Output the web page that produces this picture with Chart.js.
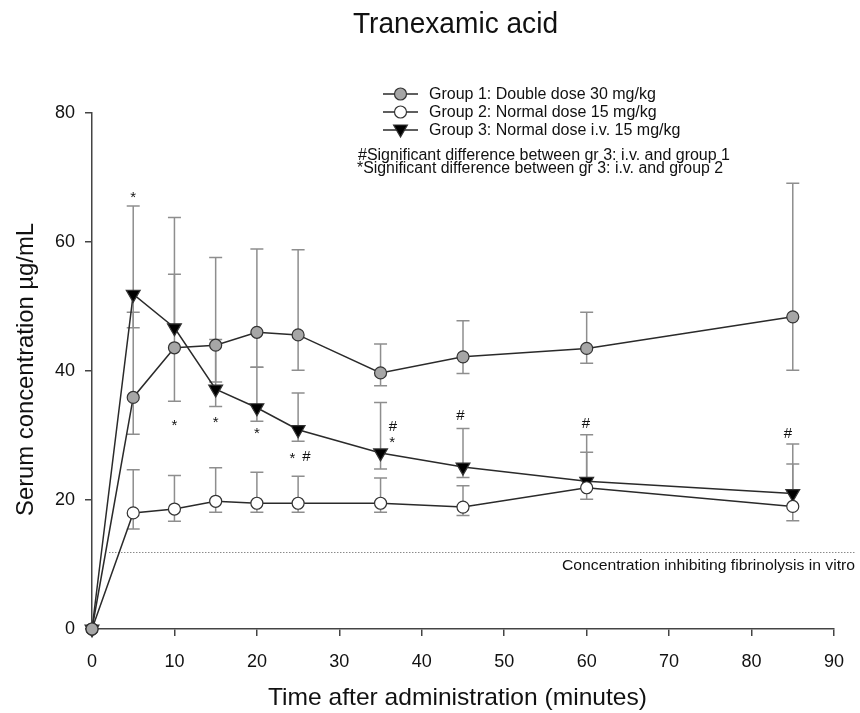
<!DOCTYPE html>
<html>
<head>
<meta charset="utf-8">
<title>Tranexamic acid</title>
<script src="https://cdn.jsdelivr.net/npm/chart.js@4.4.1/dist/chart.umd.min.js"></script>
<style>
    html, body { margin: 0; padding: 0; background: #fff; }
    #wrap { width: 860px; height: 713px; position: relative; }
</style>
</head>
<body>
<div id="wrap"><canvas id="chart"></canvas></div>
<script>
// minutes after administration
var times = [0, 5, 10, 15, 20, 25, 35, 45, 60, 85];

// mean serum concentration (ug/mL)
var group1 = [0, 35.9, 43.6, 44.0, 46.0, 45.6, 39.7, 42.2, 43.5, 48.4];
var group2 = [0, 18.0, 18.6, 19.8, 19.5, 19.5, 19.5, 18.9, 21.9, 19.0];
var group3 = [0, 51.9, 46.7, 37.2, 34.3, 30.9, 27.3, 25.1, 22.9, 21.0];

// error bar ends (null = not drawn)
var group1Hi = [null, 49.1, 55.0, 57.6, 58.9, 58.8, 44.2, 47.8, 49.1, 69.1];
var group1Lo = [null, 30.2, 35.3, 38.3, 40.6, 40.1, 37.7, 39.6, 41.2, 40.1];
var group2Hi = [null, 24.7, 23.8, 25.0, 24.3, 23.7, 23.4, 22.2, 27.4, 25.6];
var group2Lo = [null, 15.5, 16.7, 18.1, 18.1, 18.1, 18.1, 17.6, 20.1, 16.8];
var group3Hi = [null, 65.6, 63.8, 44.9, 40.6, 36.6, 35.1, 31.1, 30.1, 28.7];
var group3Lo = [null, 46.7, null, 34.5, 32.2, 29.1, 24.8, 23.5, null, null];

var seriesLabels = [
    'Group 1: Double dose 30 mg/kg',
    'Group 2: Normal dose 15 mg/kg',
    'Group 3: Normal dose i.v. 15 mg/kg'
];
var noteLabels = [
    '#Significant difference between gr 3: i.v. and group 1',
    '*Significant difference between gr 3: i.v. and group 2'
];

// significance marks
var sigX = [5, 10, 15, 20, 24.3, 26.0, 36.5, 36.4, 44.7, 59.9, 84.4];
var sigY = [67.3, 31.9, 32.4, 30.7, 26.8, 26.8, 31.4, 29.3, 33.2, 32.0, 30.4];
var sigText = ['*', '*', '*', '*', '*', '#', '#', '*', '#', '#', '#'];

// concentration inhibiting fibrinolysis in vitro
var threshold = 12;
var thresholdLabel = 'Concentration inhibiting fibrinolysis in vitro';

var xTicks = [0, 10, 20, 30, 40, 50, 60, 70, 80, 90];
var yTicks = [0, 20, 40, 60, 80];

var FONT = '"Liberation Sans", Arial, Helvetica, sans-serif';
var AXIS = '#444';
var LINE = '#2a2a2a';
var ERR = '#8e8e8e';

var toPoints = function (values) {
    return times.map(function (t, i) { return { x: t, y: values[i] }; });
};

var fitText = function (ctx, text, x, y, size, width) {
    ctx.save();
    ctx.font = size + 'px ' + FONT;
    var s = width / ctx.measureText(text).width;
    ctx.translate(x, y);
    ctx.scale(s, 1);
    ctx.textAlign = 'left';
    ctx.textBaseline = 'alphabetic';
    ctx.fillText(text, 0, 0);
    ctx.restore();
};

var drawMarker = function (ctx, kind, x, y) {
    ctx.save();
    ctx.lineWidth = 1.2;
    ctx.strokeStyle = '#333';
    ctx.beginPath();
    if (kind === 'tri') {
        ctx.moveTo(x, y + 8);
        ctx.lineTo(x - 6.9, y - 4);
        ctx.lineTo(x + 6.9, y - 4);
        ctx.closePath();
        ctx.fillStyle = '#000';
    } else {
        ctx.arc(x, y, 6, 0, Math.PI * 2);
        ctx.fillStyle = kind === 'gray' ? '#a6a6a6' : '#fff';
    }
    ctx.fill();
    ctx.stroke();
    ctx.restore();
};

var extras = {
    id: 'extras',
    beforeDatasetsDraw: function (chart) {
        var ctx = chart.ctx;
        var xs = chart.scales.x;
        var ys = chart.scales.y;

        // dotted threshold line
        ctx.save();
        ctx.strokeStyle = '#555';
        ctx.lineWidth = 1;
        ctx.setLineDash([1, 2]);
        ctx.beginPath();
        var ty = Math.round(ys.getPixelForValue(threshold)) + 0.5;
        ctx.moveTo(xs.getPixelForValue(2.1), ty);
        ctx.lineTo(xs.getPixelForValue(92.6), ty);
        ctx.stroke();
        ctx.restore();

        // error bars
        var sets = [[group1, group1Hi, group1Lo], [group2, group2Hi, group2Lo], [group3, group3Hi, group3Lo]];
        ctx.save();
        ctx.strokeStyle = ERR;
        ctx.lineWidth = 1.5;
        sets.forEach(function (s) {
            times.forEach(function (t, i) {
                var px = xs.getPixelForValue(t);
                var py = ys.getPixelForValue(s[0][i]);
                [s[1][i], s[2][i]].forEach(function (end) {
                    if (end === null) return;
                    var ey = ys.getPixelForValue(end);
                    ctx.beginPath();
                    ctx.moveTo(px, py);
                    ctx.lineTo(px, ey);
                    ctx.moveTo(px - 6.5, ey);
                    ctx.lineTo(px + 6.5, ey);
                    ctx.stroke();
                });
            });
        });
        ctx.restore();
    },
    afterDraw: function (chart) {
        var ctx = chart.ctx;
        var xs = chart.scales.x;
        var ys = chart.scales.y;
        ctx.save();
        ctx.fillStyle = '#111';

        // title
        fitText(ctx, 'Tranexamic acid', 353, 33, 29, 205);

        // axis titles
        fitText(ctx, 'Time after administration (minutes)', 268, 705, 24, 379);
        ctx.save();
        ctx.translate(33, 516);
        ctx.rotate(-Math.PI / 2);
        fitText(ctx, 'Serum concentration \u00b5g/mL', 0, 0, 24, 293);
        ctx.restore();

        // legend
        var kinds = ['gray', 'white', 'tri'];
        var rowY = [94, 112, 130];
        seriesLabels.forEach(function (label, i) {
            ctx.save();
            ctx.strokeStyle = LINE;
            ctx.lineWidth = 1.5;
            ctx.beginPath();
            ctx.moveTo(383, rowY[i]);
            ctx.lineTo(418, rowY[i]);
            ctx.stroke();
            ctx.restore();
            drawMarker(ctx, kinds[i], 400.5, kinds[i] === 'tri' ? rowY[i] - 1 : rowY[i]);
            ctx.font = '16px ' + FONT;
            ctx.textBaseline = 'alphabetic';
            ctx.fillText(label, 429, rowY[i] + 5);
        });
        fitText(ctx, noteLabels[0], 358, 160, 16, 372);
        fitText(ctx, noteLabels[1], 357, 173, 16, 366);

        // threshold label
        fitText(ctx, thresholdLabel, 562, 570, 15.5, 293);

        // significance marks
        ctx.font = '15px ' + FONT;
        ctx.textAlign = 'center';
        ctx.textBaseline = 'alphabetic';
        sigText.forEach(function (txt, i) {
            var m = ctx.measureText(txt);
            var cy = ys.getPixelForValue(sigY[i]);
            var base = cy + (m.actualBoundingBoxAscent - m.actualBoundingBoxDescent) / 2;
            ctx.fillText(txt, xs.getPixelForValue(sigX[i]), base);
        });
        ctx.restore();
    }
};

var datasetStyle = function (label, values, style) {
    var isTri = style === 'tri';
    return {
        label: label,
        data: toPoints(values),
        borderColor: LINE,
        borderWidth: 1.5,
        pointStyle: isTri ? 'triangle' : 'circle',
        rotation: isTri ? 180 : 0,
        pointRadius: isTri ? 8 : 6,
        pointHoverRadius: isTri ? 8 : 6,
        pointBackgroundColor: isTri ? '#000' : (style === 'gray' ? '#a6a6a6' : '#fff'),
        pointBorderColor: '#333',
        pointBorderWidth: 1.2,
        tension: 0,
        clip: false
    };
};

var ctx = document.getElementById('chart');

new Chart(ctx, {
    type: 'line',
    data: {
        datasets: [
            datasetStyle(seriesLabels[0], group1, 'gray'),
            datasetStyle(seriesLabels[1], group2, 'white'),
            datasetStyle(seriesLabels[2], group3, 'tri')
        ]
    },
    options: {
        responsive: true,
        maintainAspectRatio: false,
        animation: false,
        devicePixelRatio: 1,
        layout: {
            padding: { top: 113, right: 26, left: 0, bottom: 0 }
        },
        plugins: {
            legend: { display: false },
            title: { display: false },
            tooltip: { enabled: false }
        },
        scales: {
            x: {
                type: 'linear',
                min: 0,
                max: 90,
                afterBuildTicks: function (scale) {
                    scale.ticks = xTicks.map(function (v) { return { value: v }; });
                },
                afterFit: function (scale) { scale.height = 84; },
                grid: { display: true, drawOnChartArea: false, drawTicks: true, tickLength: 7, color: AXIS, lineWidth: 1.5 },
                border: { display: true, color: AXIS, width: 1.5 },
                ticks: { color: '#111', font: { size: 18, family: FONT }, padding: 15, maxRotation: 0 }
            },
            y: {
                type: 'linear',
                min: 0,
                max: 80,
                afterBuildTicks: function (scale) {
                    scale.ticks = yTicks.map(function (v) { return { value: v }; });
                },
                afterFit: function (scale) { scale.width = 92; },
                grid: { display: true, drawOnChartArea: false, drawTicks: true, tickLength: 7, color: AXIS, lineWidth: 1.5 },
                border: { display: true, color: AXIS, width: 1.5 },
                ticks: { color: '#111', font: { size: 18, family: FONT }, padding: 10 }
            }
        }
    },
    plugins: [extras]
});
</script>
</body>
</html>
